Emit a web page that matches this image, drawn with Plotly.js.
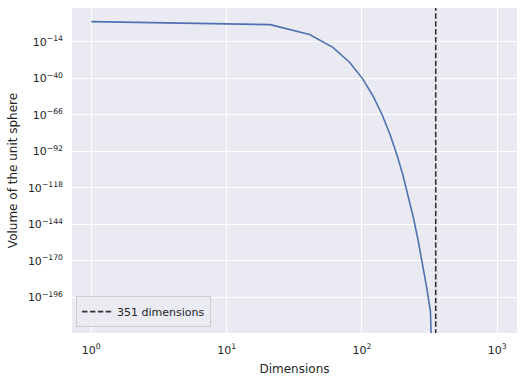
<!DOCTYPE html>
<html>
<head>
<meta charset="utf-8">
<script src="https://cdn.plot.ly/plotly-3.0.1.min.js"></script>
<style>html,body{margin:0;padding:0;background:#fff;}#chart{width:524px;height:383px;}</style>
</head>
<body>
<div id="chart"></div>
<script>
// Dimensions sampled (every 20) and the read volume of the unit sphere
const dimensions = [1, 21, 41, 61, 81, 101, 121, 141, 161, 181, 201, 221, 241, 261, 281, 301, 321, 341];
const volumes = [2.0, 1.40e-2, 1.40e-9, 9.9e-19, 2.62e-29, 5.9e-41, 1.86e-53, 1.12e-66, 1.62e-80,
                 6.9e-95, 9.8e-110, 5.1e-125, 1.10e-140, 1.02e-156, 4.5e-173, 9.3e-190, 1.05e-206, 1e-300];
const markerDimension = 351;
const markerLabel = "351 dimensions";
const yTickExponents = [-14, -40, -66, -92, -118, -144, -170, -196];
const xTickExponents = [0, 1, 2, 3];

const sup = e => "10<sup>" + String(e).replace("-", "\u2212") + "</sup>";

const traces = [
  {
    x: dimensions, y: volumes, mode: "lines", type: "scatter",
    line: {color: "#4C72B0", width: 1.6}, showlegend: false, hoverinfo: "skip"
  },
  {
    x: [markerDimension, markerDimension], y: [1e40, 1e-300], mode: "lines", type: "scatter",
    line: {color: "#333333", width: 1.6, dash: "5.5px,2.4px"}, name: markerLabel, showlegend: true
  }
];

const layout = {
  width: 524, height: 383,
  margin: {l: 72, r: 7, t: 8, b: 50},
  paper_bgcolor: "#ffffff", plot_bgcolor: "#EAEAF2",
  font: {family: "DejaVu Sans, sans-serif", size: 11, color: "#262626"},
  xaxis: {
    type: "log", range: [-0.1426, 3.146],
    tickmode: "array", tickvals: xTickExponents.map(e => Math.pow(10, e)), ticktext: xTickExponents.map(sup),
    showgrid: true, gridcolor: "#ffffff", gridwidth: 1, zeroline: false, showline: false,
    ticks: "", ticklabelstandoff: 9,
    tickfont: {size: 11, color: "#262626"},
    title: {text: "Dimensions", font: {size: 12, color: "#262626"}, standoff: 8}
  },
  yaxis: {
    type: "log", range: [-221.26, 10.0],
    tickmode: "array", tickvals: yTickExponents.map(e => Math.pow(10, e)), ticktext: yTickExponents.map(sup),
    showgrid: true, gridcolor: "#ffffff", gridwidth: 1, zeroline: false, showline: false,
    ticks: "", ticklabelstandoff: 8,
    tickfont: {size: 11, color: "#262626"},
    title: {text: "Volume of the unit sphere", font: {size: 12, color: "#262626"}, standoff: 7}
  },
  legend: {
    x: 0.009, y: 0.018, xanchor: "left", yanchor: "bottom",
    bgcolor: "rgba(234,234,242,0.8)", bordercolor: "#cccccc", borderwidth: 1,
    font: {size: 11, color: "#262626"}
  },
  showlegend: true
};

Plotly.newPlot("chart", traces, layout, {displayModeBar: false, staticPlot: true});
</script>
</body>
</html>
